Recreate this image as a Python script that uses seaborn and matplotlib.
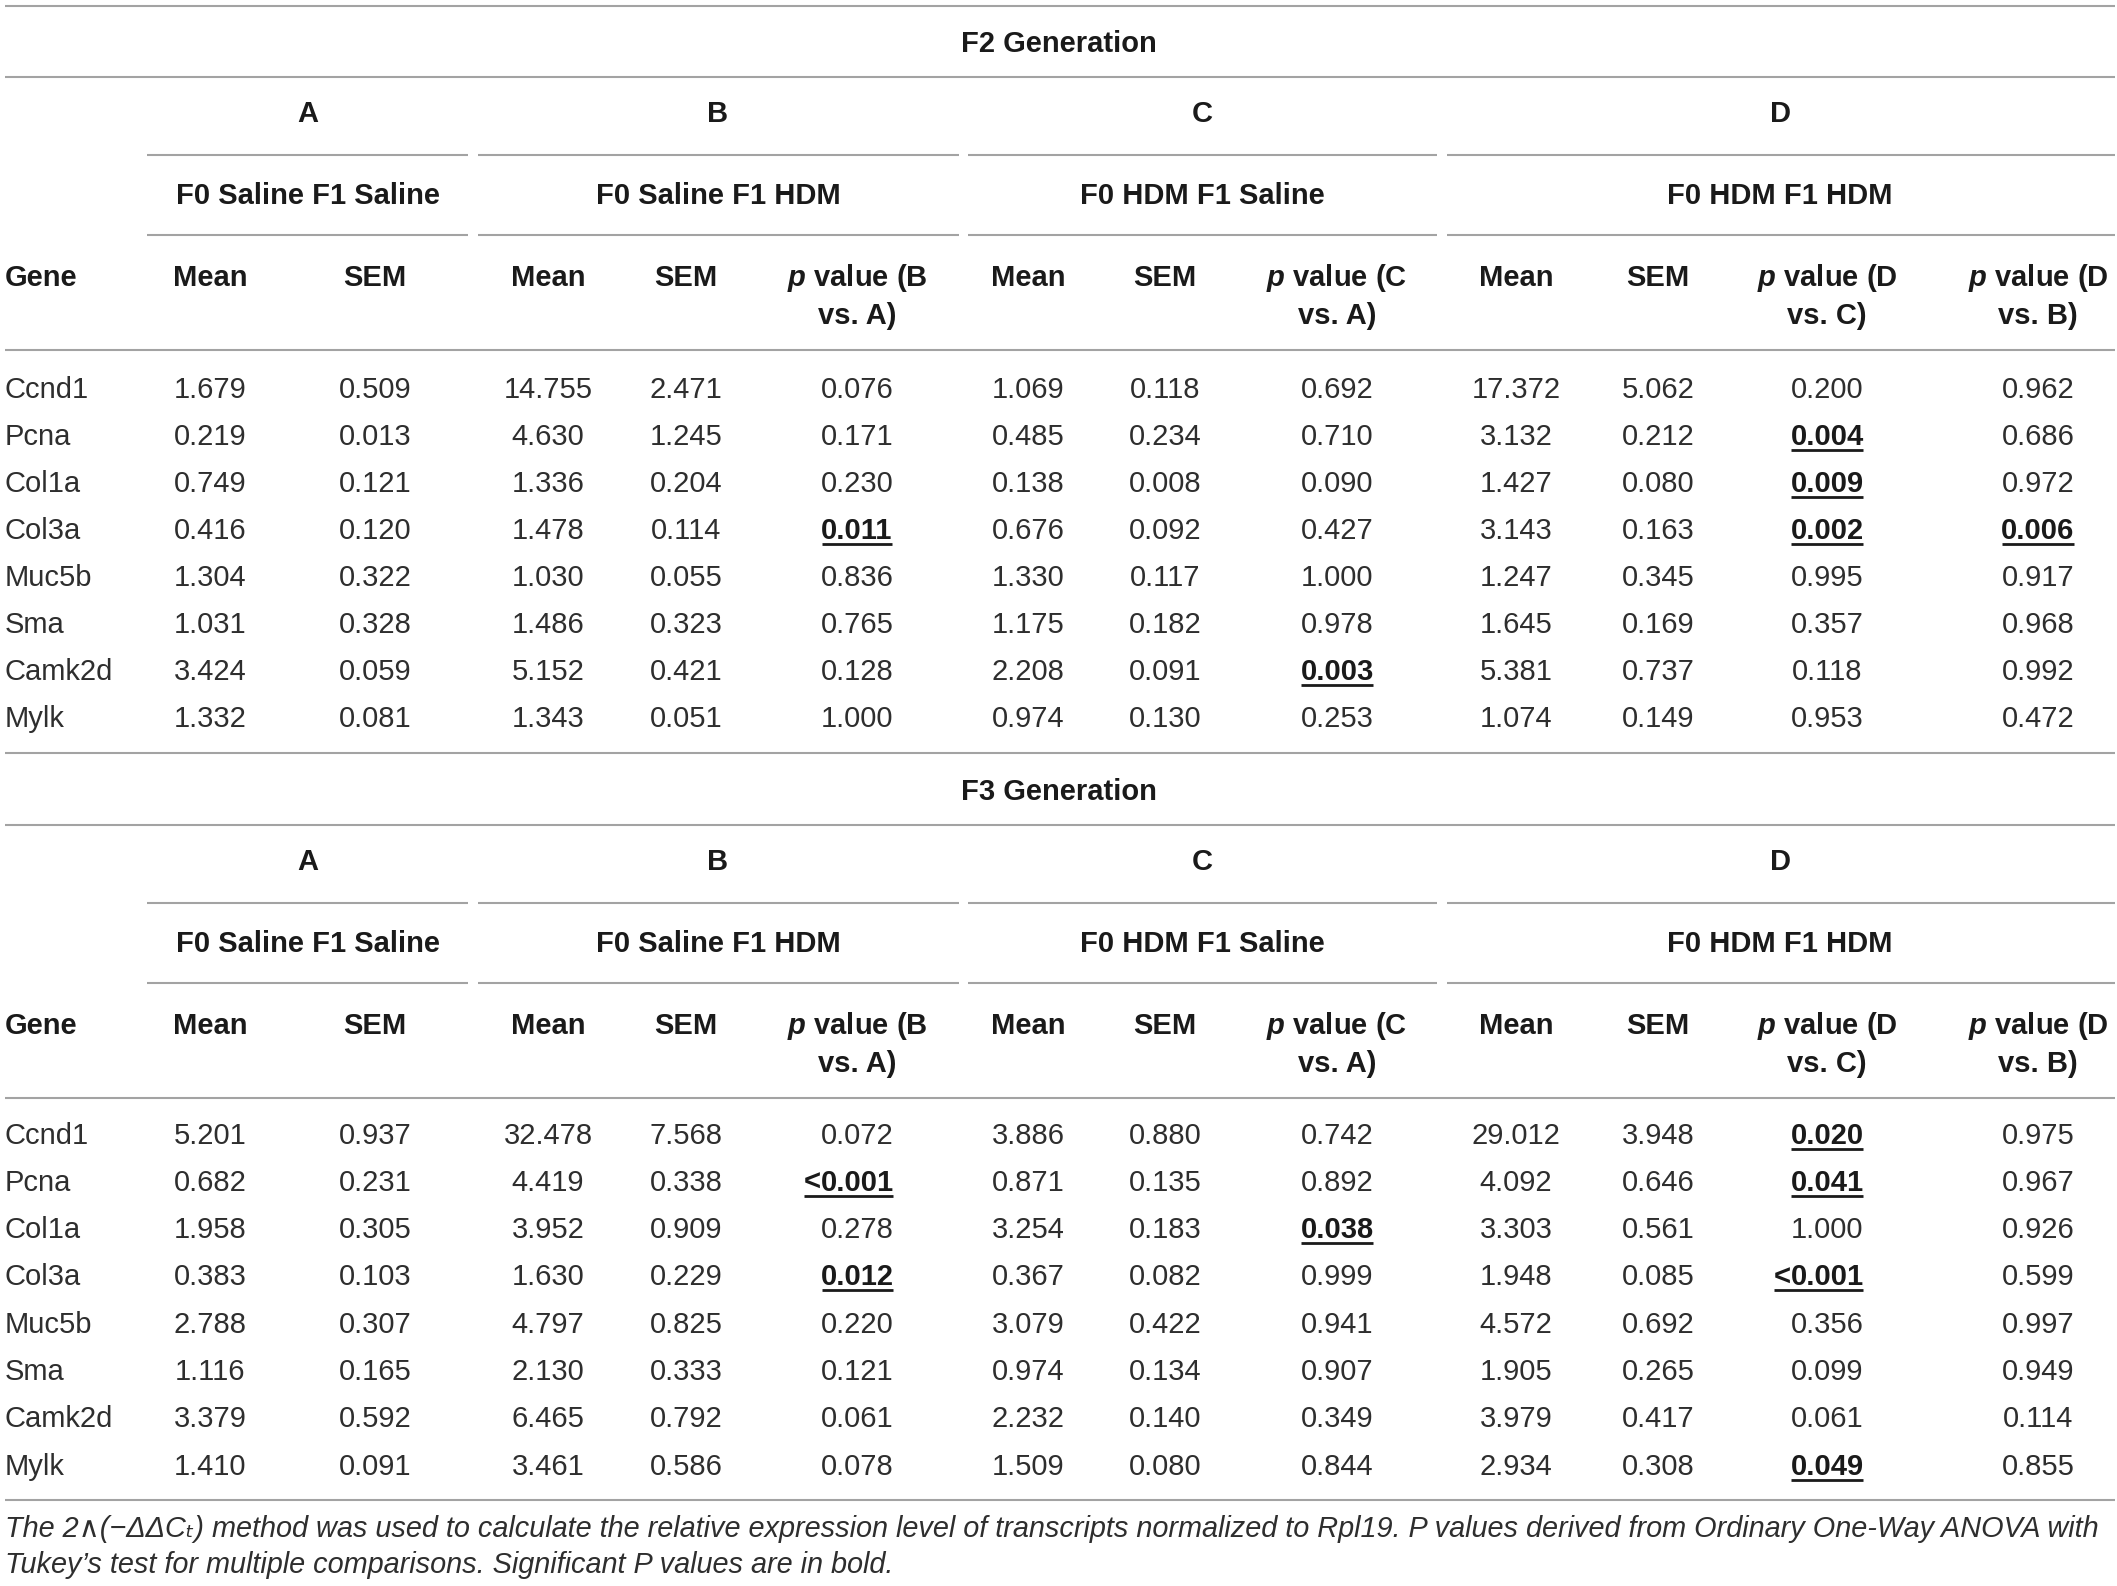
import numpy as np
import pandas as pd
import seaborn as sns
import matplotlib.pyplot as plt

genes = ['Ccnd1', 'Pcna', 'Col1a', 'Col3a', 'Muc5b', 'Sma', 'Camk2d', 'Mylk']

# F2 generation
f2_a_mean = [1.679, 0.219, 0.749, 0.416, 1.304, 1.031, 3.424, 1.332]
f2_a_sem = [0.509, 0.013, 0.121, 0.120, 0.322, 0.328, 0.059, 0.081]
f2_b_mean = [14.755, 4.630, 1.336, 1.478, 1.030, 1.486, 5.152, 1.343]
f2_b_sem = [2.471, 1.245, 0.204, 0.114, 0.055, 0.323, 0.421, 0.051]
f2_b_p = ['0.076', '0.171', '0.230', '0.011', '0.836', '0.765', '0.128', '1.000']
f2_c_mean = [1.069, 0.485, 0.138, 0.676, 1.330, 1.175, 2.208, 0.974]
f2_c_sem = [0.118, 0.234, 0.008, 0.092, 0.117, 0.182, 0.091, 0.130]
f2_c_p = ['0.692', '0.710', '0.090', '0.427', '1.000', '0.978', '0.003', '0.253']
f2_d_mean = [17.372, 3.132, 1.427, 3.143, 1.247, 1.645, 5.381, 1.074]
f2_d_sem = [5.062, 0.212, 0.080, 0.163, 0.345, 0.169, 0.737, 0.149]
f2_d_p_c = ['0.200', '0.004', '0.009', '0.002', '0.995', '0.357', '0.118', '0.953']
f2_d_p_b = ['0.962', '0.686', '0.972', '0.006', '0.917', '0.968', '0.992', '0.472']

# F3 generation
f3_a_mean = [5.201, 0.682, 1.958, 0.383, 2.788, 1.116, 3.379, 1.410]
f3_a_sem = [0.937, 0.231, 0.305, 0.103, 0.307, 0.165, 0.592, 0.091]
f3_b_mean = [32.478, 4.419, 3.952, 1.630, 4.797, 2.130, 6.465, 3.461]
f3_b_sem = [7.568, 0.338, 0.909, 0.229, 0.825, 0.333, 0.792, 0.586]
f3_b_p = ['0.072', '<0.001', '0.278', '0.012', '0.220', '0.121', '0.061', '0.078']
f3_c_mean = [3.886, 0.871, 3.254, 0.367, 3.079, 0.974, 2.232, 1.509]
f3_c_sem = [0.880, 0.135, 0.183, 0.082, 0.422, 0.134, 0.140, 0.080]
f3_c_p = ['0.742', '0.892', '0.038', '0.999', '0.941', '0.907', '0.349', '0.844']
f3_d_mean = [29.012, 4.092, 3.303, 1.948, 4.572, 1.905, 3.979, 2.934]
f3_d_sem = [3.948, 0.646, 0.561, 0.085, 0.692, 0.265, 0.417, 0.308]
f3_d_p_c = ['0.020', '0.041', '1.000', '<0.001', '0.356', '0.099', '0.061', '0.049']
f3_d_p_b = ['0.975', '0.967', '0.926', '0.599', '0.997', '0.949', '0.114', '0.855']

groups = ['A', 'B', 'C', 'D']
conditions = ['F0 Saline F1 Saline', 'F0 Saline F1 HDM', 'F0 HDM F1 Saline', 'F0 HDM F1 HDM']
col_names = ['Gene', 'Mean', 'SEM', 'Mean', 'SEM', 'p_BA', 'Mean', 'SEM', 'p_CA',
             'Mean', 'SEM', 'p_DC', 'p_DB']
p_heads = {'p_BA': ('B', 'A'), 'p_CA': ('C', 'A'), 'p_DC': ('D', 'C'), 'p_DB': ('D', 'B')}

f2 = pd.DataFrame(list(zip(genes, f2_a_mean, f2_a_sem, f2_b_mean, f2_b_sem, f2_b_p,
                           f2_c_mean, f2_c_sem, f2_c_p, f2_d_mean, f2_d_sem,
                           f2_d_p_c, f2_d_p_b)))
f3 = pd.DataFrame(list(zip(genes, f3_a_mean, f3_a_sem, f3_b_mean, f3_b_sem, f3_b_p,
                           f3_c_mean, f3_c_sem, f3_c_p, f3_d_mean, f3_d_sem,
                           f3_d_p_c, f3_d_p_b)))

sns.set_theme(style='white')
plt.rcParams['font.family'] = ['Liberation Sans', 'DejaVu Sans']
plt.rcParams['mathtext.fontset'] = 'custom'
plt.rcParams['mathtext.it'] = 'Liberation Sans:italic:bold'
plt.rcParams['mathtext.rm'] = 'Liberation Sans:bold'

W, H = 2117, 1586
fig = plt.figure(figsize=(W / 100, H / 100), dpi=100)
ax = fig.add_axes([0, 0, 1, 1])
ax.set_xlim(0, W)
ax.set_ylim(H, 0)
ax.axis('off')
renderer = fig.canvas.get_renderer()

txt_col = '#2e2e2e'
bold_col = '#1a1a1a'
rule_col = '#a3a3a3'
fs = 21

col_x = [5, 210, 375, 548, 686, 857, 1028, 1165, 1337, 1516, 1658, 1827, 2038]
group_x = [308, 718, 1202, 1780]
seg = [(147, 468), (478, 959), (968, 1437), (1447, 2115)]


def to_data_x(bb):
    inv = ax.transData.inverted()
    (x0, _), (x1, _) = inv.transform([[bb.x0, bb.y0], [bb.x1, bb.y1]])
    return x0, x1


def cell(x, y, s, bold=False, ha='center', under=False):
    base = y + 10.5
    prefix = ''
    if s.startswith('<'):
        prefix, s = '<', s[1:]
    t = ax.text(x, base, s, ha=ha, va='baseline', fontsize=fs,
                fontweight='bold' if bold else 'normal',
                color=bold_col if bold else txt_col)
    if not (under or prefix):
        return
    x0, x1 = to_data_x(t.get_window_extent(renderer))
    if prefix:
        tp = ax.text(x0, base, prefix, ha='right', va='baseline', fontsize=fs,
                     fontweight='bold' if bold else 'normal',
                     color=bold_col if bold else txt_col)
        x0, _ = to_data_x(tp.get_window_extent(renderer))
    if under:
        ax.plot([x0 + 1, x1 - 1], [base + 5, base + 5], color=bold_col, lw=2,
                solid_capstyle='butt')


def head(x, y, s, ha='center'):
    ax.text(x, y + 10.5, s, ha=ha, va='baseline', fontsize=fs,
            fontweight='bold', color=bold_col)


def section(df, title, dy, row_y0, row_step, bottom):
    head(W / 2, 42 + dy, title)
    ax.hlines(77 + dy, 5, 2115, color=rule_col, lw=1.5)
    for g, c, gx in zip(groups, conditions, group_x):
        head(gx, 112 + dy, g)
        head(gx, 193 + dy, c)
    for a, b in seg:
        ax.hlines([155 + dy, 235 + dy], a, b, color=rule_col, lw=1.5)
    for name, x in zip(col_names, col_x):
        if name in p_heads:
            u, v = p_heads[name]
            head(x, 276 + dy, '$p$ value (' + u)
            head(x, 314 + dy, 'vs. ' + v + ')')
        else:
            head(x, 276 + dy, name, ha='left' if name == 'Gene' else 'center')
    ax.hlines(350 + dy, 5, 2115, color=rule_col, lw=1.5)
    for i, row in df.iterrows():
        y = row_y0 + i * row_step
        for j, x in enumerate(col_x):
            v = row[j]
            if j == 0:
                cell(x, y, v, ha='left')
            elif isinstance(v, str):
                sig = float(v.lstrip('<')) < 0.05
                cell(x, y, v, bold=sig, under=sig)
            else:
                cell(x, y, f'{v:.3f}')
    ax.hlines(bottom, 5, 2115, color=rule_col, lw=1.5)


ax.hlines(6, 5, 2115, color=rule_col, lw=1.5)
section(f2, 'F2 Generation', 0, 387, 47.1, 753)
section(f3, 'F3 Generation', 748, 1133, 47.3, 1500)

cap1 = ('The 2\u2227(\u2212\u0394\u0394C\u209c) method was used to calculate the relative '
        'expression level of transcripts normalized to Rpl19. P values derived from '
        'Ordinary One-Way ANOVA with')
cap2 = "Tukey\u2019s test for multiple comparisons. Significant P values are in bold."
ax.text(5, 1537, cap1, ha='left', va='baseline', fontsize=20.8, style='italic',
        color=txt_col)
ax.text(5, 1573, cap2, ha='left', va='baseline', fontsize=20.8, style='italic',
        color=txt_col)

fig.savefig('out.png', dpi=100)
